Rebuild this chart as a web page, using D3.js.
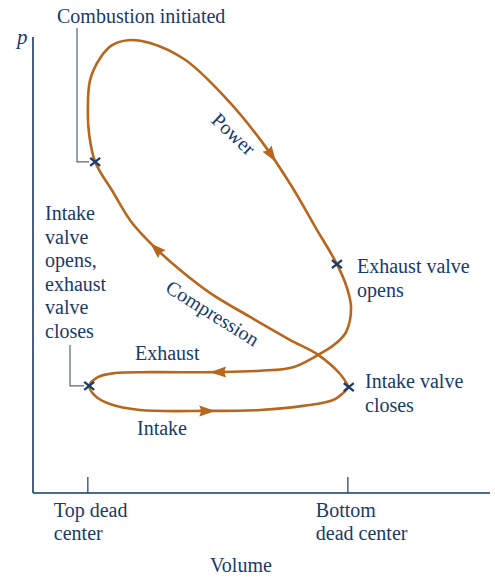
<!DOCTYPE html>
<html>
<head>
<meta charset="utf-8">
<script src="https://cdn.jsdelivr.net/npm/d3@7"></script>
<style>
  body { margin: 0; background: #fff; }
  svg text { font-family: "Liberation Serif", "DejaVu Serif", serif; fill: #173a6b; }
</style>
</head>
<body>
<svg id="chart" width="495" height="577"></svg>
<script>
// Cycle traced on the p-V plane (volume %, pressure %), starting at intake valve closing
const cycle_volume = [69.1, 67.2, 62.4, 56.2, 47.5, 38.7, 32.2, 26.3, 21.4, 17.5, 13.6, 12.3, 12.0, 12.5,
    14.7, 17.3, 20.8, 25.6, 33.3, 42.0, 50.1, 56.7, 61.9, 66.5, 68.7, 69.6, 68.5, 65.9, 62.4, 56.9,
    49.7, 40.3, 25.6, 17.9, 14.2, 12.3, 13.6, 16.8, 23.4, 38.1, 49.7, 59.1, 66.1, 69.1];
const cycle_pressure = [23.2, 26.1, 30.3, 33.6, 38.6, 43.9, 48.9, 54.2, 59.6, 66.0, 72.6, 78.5, 84.0, 90.6,
    95.4, 98.2, 99.3, 98.7, 95.0, 86.8, 77.0, 67.1, 58.1, 50.2, 45.0, 40.6, 35.3, 32.5, 30.3, 27.6,
    26.8, 26.5, 26.5, 26.3, 25.4, 23.5, 21.3, 19.5, 18.2, 18.0, 18.2, 19.1, 20.6, 23.2];

// State points marked with a cross
const state_names = ["Combustion initiated", "Exhaust valve opens", "Intake valve closes", "Intake valve opens"];
const state_volume = [13.6, 66.5, 69.1, 12.3];
const state_pressure = [72.6, 50.2, 23.2, 23.5];

// Direction arrows on the cycle
const arrow_names = ["Power", "Compression", "Exhaust", "Intake"];
const arrow_volume = [52.3, 26.7, 40.5, 38.1];
const arrow_pressure = [74.1, 53.3, 26.5, 18.0];

// Volume axis ticks
const tick_volume = [12.0, 68.9];
const tick_labels = [["Top dead", "center"], ["Bottom", "dead center"]];

const curve_color = "#b8661c";
const ink = "#173a6b";

const svg = d3.select("#chart");

const x = d3.scaleLinear().domain([0, 100]).range([33, 490]);
const y = d3.scaleLinear().domain([0, 100]).range([493, 37]);

// Axes
svg.append("path")
    .attr("d", `M${x(0)},${y(0)}V${y(100)}M${x(0)},${y(0)}H${x(100)}`)
    .attr("fill", "none").attr("stroke", ink).attr("stroke-width", 1.6);

tick_volume.forEach((v, i) => {
    svg.append("line")
        .attr("x1", x(v)).attr("x2", x(v))
        .attr("y1", y(0)).attr("y2", y(0) - 16)
        .attr("stroke", ink).attr("stroke-width", 1.2);
    const t = svg.append("text").attr("x", x(v) - (i === 0 ? 34 : 32)).attr("y", 517).attr("font-size", 20);
    tick_labels[i].forEach((line, j) => {
        t.append("tspan").attr("x", x(v) - (i === 0 ? 34 : 32)).attr("dy", j === 0 ? 0 : 23).text(line);
    });
});

svg.append("text").attr("x", 210).attr("y", 572).attr("font-size", 20).text("Volume");
svg.append("text").attr("x", 17).attr("y", 44).attr("font-size", 21).attr("font-style", "italic").text("p");

// Cycle curve
const points = cycle_volume.map((v, i) => [x(v), y(cycle_pressure[i])]);
const cycle = svg.append("path")
    .attr("d", d3.line().curve(d3.curveCatmullRom.alpha(0.5))(points))
    .attr("fill", "none")
    .attr("stroke", curve_color)
    .attr("stroke-width", 2.6);

// Arrows: find nearest point along the path, orient along the tangent
const node = cycle.node();
const total = node.getTotalLength();
arrow_volume.forEach((v, i) => {
    const px = x(v), py = y(arrow_pressure[i]);
    let best = 0, bestD = Infinity;
    for (let l = 0; l <= total; l += 0.5) {
        const p = node.getPointAtLength(l);
        const d = (p.x - px) ** 2 + (p.y - py) ** 2;
        if (d < bestD) { bestD = d; best = l; }
    }
    const a = node.getPointAtLength(Math.max(0, best - 3));
    const b = node.getPointAtLength(Math.min(total, best + 3));
    const c = node.getPointAtLength(best);
    const ang = Math.atan2(b.y - a.y, b.x - a.x) * 180 / Math.PI;
    svg.append("path")
        .attr("d", "M8,0L-8,-5.5L-6,0L-8,5.5Z")
        .attr("fill", curve_color)
        .attr("transform", `translate(${c.x},${c.y}) rotate(${ang})`);
});

// Leader lines
const leader = "#4f6584";
svg.append("path")
    .attr("d", `M77,28V${y(state_pressure[0])}H${x(state_volume[0]) - 6}`)
    .attr("fill", "none").attr("stroke", leader).attr("stroke-width", 1.2);
svg.append("path")
    .attr("d", `M70,345V${y(state_pressure[3])}H${x(state_volume[3]) - 5}`)
    .attr("fill", "none").attr("stroke", leader).attr("stroke-width", 1.2);

// State markers
state_volume.forEach((v, i) => {
    const cx = x(v), cy = y(state_pressure[i]);
    svg.append("path")
        .attr("d", `M${cx - 5},${cy - 4}L${cx + 5},${cy + 4}M${cx - 5},${cy + 4}L${cx + 5},${cy - 4}`)
        .attr("stroke", ink).attr("stroke-width", 2.2).attr("fill", "none");
});

// Text labels
function block(xp, yp, lines, lh) {
    const t = svg.append("text").attr("x", xp).attr("y", yp).attr("font-size", 20);
    lines.forEach((s, j) => t.append("tspan").attr("x", xp).attr("dy", j === 0 ? 0 : lh).text(s));
}
block(57, 23, ["Combustion initiated"], 0);
block(357, 273, ["Exhaust valve", "opens"], 24);
block(365, 388, ["Intake valve", "closes"], 24);
block(45, 220, ["Intake", "valve", "opens,", "exhaust", "valve", "closes"], 23.6);
block(135, 360, ["Exhaust"], 0);
block(137, 435, ["Intake"], 0);

svg.append("text").attr("font-size", 20).attr("text-anchor", "middle")
    .attr("transform", "translate(229,139) rotate(43)").text("Power");
svg.append("text").attr("font-size", 20).attr("text-anchor", "middle")
    .attr("transform", "translate(209,319) rotate(32)").text("Compression");
</script>
</body>
</html>
